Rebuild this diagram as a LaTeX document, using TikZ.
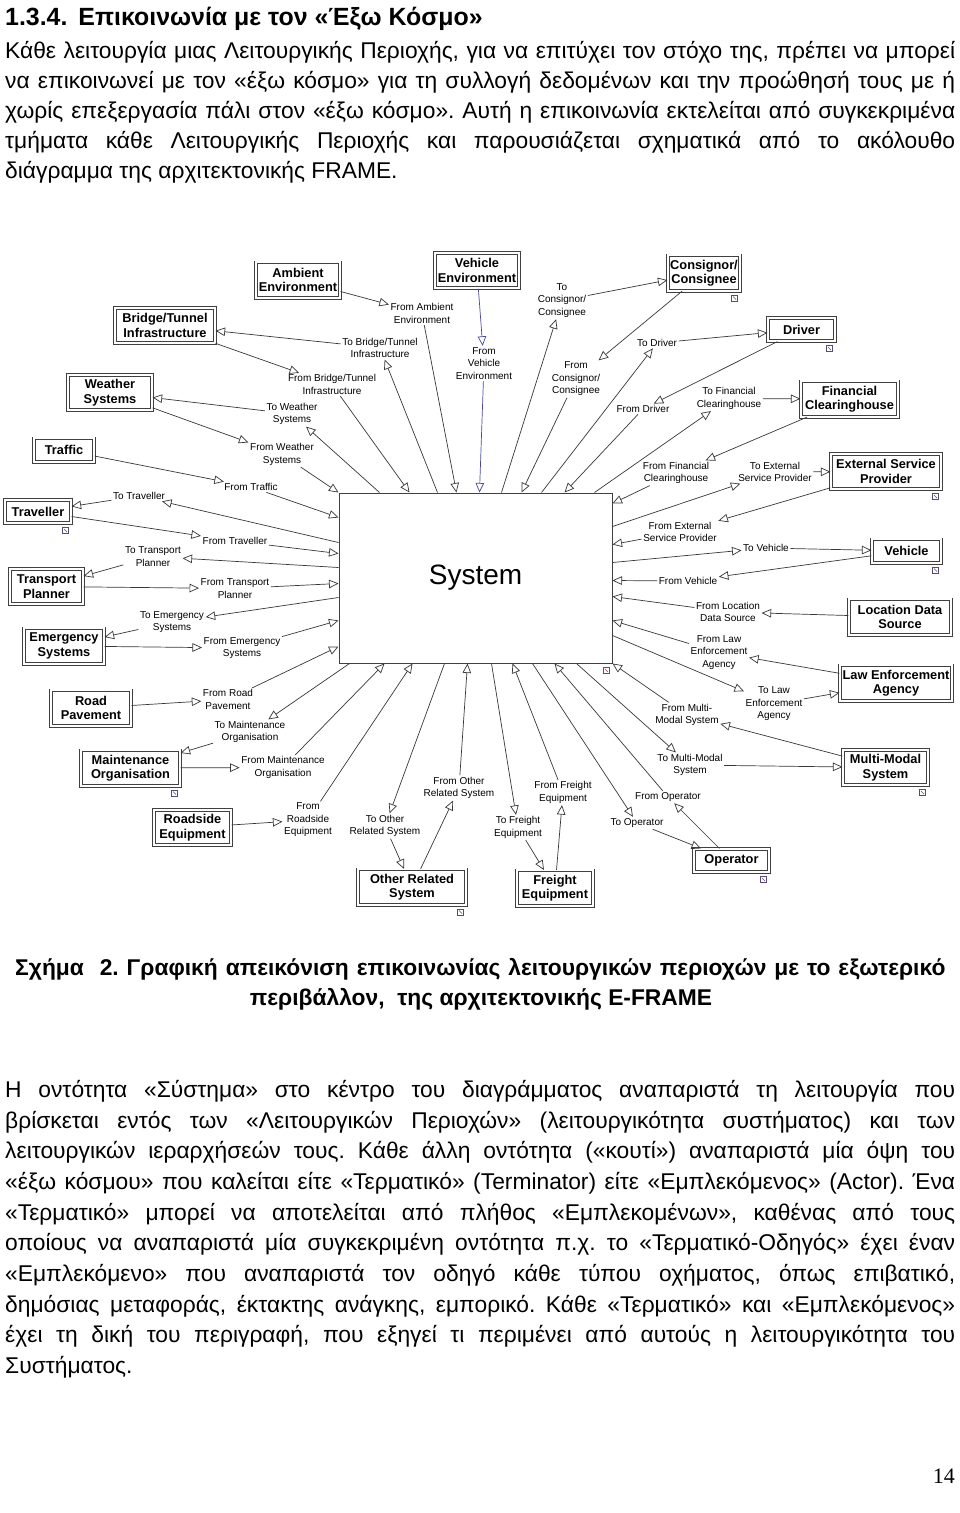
\documentclass[tikz,border=0pt]{standalone}
\usepackage{fontspec}
\setmainfont{Liberation Sans}
\newfontfamily\pagenofont{Liberation Serif}
\usetikzlibrary{arrows.meta}
\frenchspacing
\definecolor{flowGrey}{HTML}{383838}
\definecolor{flowBlue}{HTML}{4848A0}
\definecolor{boxGrey}{HTML}{404040}
\definecolor{iconPurple}{HTML}{5A4A7A}
\definecolor{iconRed}{HTML}{B03040}
\newcommand{\fullline}[2][950pt]{\makebox[#1][s]{#2}}
\newcommand{\boxmark}[2][iconPurple]{%
  \draw[#1, line width=0.6pt, fill=white] ([xshift=-9pt,yshift=-4pt]#2.south east) rectangle ++(6pt,-6pt);
  \draw[#1, line width=0.5pt] ([xshift=-7.5pt,yshift=-5.5pt]#2.south east) -- ++(3pt,-3pt);}
\tikzset{
  bodyline/.style={anchor=base west, inner sep=0pt, font=\fontsize{22.8}{30.5}\selectfont},
  headline/.style={anchor=base west, inner sep=0pt, font=\fontsize{24.9}{30.5}\selectfont\bfseries},
  capline/.style={anchor=base west, inner sep=0pt, font=\fontsize{22.8}{30.5}\selectfont\bfseries},
  term/.style={rectangle, draw=boxGrey, line width=0.8pt, double=white, double distance=2pt,
    fill=white, align=center, inner sep=1pt, minimum height=35.4pt,
    font=\fontsize{12.8}{14.5}\selectfont\bfseries},
  termone/.style={term, minimum height=23.4pt},
  flowlbl/.style={align=center, inner sep=1.5pt, font=\fontsize{10}{12.5}\selectfont},
  sysbox/.style={rectangle, draw=boxGrey, line width=1pt, fill=white,
    minimum width=273pt, minimum height=170pt, font=\fontsize{28}{30}\selectfont},
  flow/.style={draw=flowGrey, line width=0.7pt, -{Triangle[open, length=9.5pt, width=8.5pt]}},
  flowblue/.style={flow, draw=flowBlue},
}
\begin{document}
\begin{tikzpicture}[x=1pt, y=-1pt]
\useasboundingbox[fill=white] (0,0) rectangle (960,1513);

% ---------- heading and first paragraph ----------
\node[headline] (head) at (5,25) {1.3.4.\hspace{11pt}Επικοινωνία με τον «Έξω Κόσμο»};
\node[bodyline] (p1-1) at (5,58) {\fullline{Κάθε λειτουργία μιας Λειτουργικής Περιοχής, για να επιτύχει τον στόχο της, πρέπει να μπορεί}};
\node[bodyline] (p1-2) at (5,88) {\fullline{να επικοινωνεί με τον «έξω κόσμο» για τη συλλογή δεδομένων και την προώθησή τους με ή}};
\node[bodyline] (p1-3) at (5,118) {\fullline{χωρίς επεξεργασία πάλι στον «έξω κόσμο». Αυτή η επικοινωνία εκτελείται από συγκεκριμένα}};
\node[bodyline] (p1-4) at (5,148) {\fullline{τμήματα κάθε Λειτουργικής Περιοχής και παρουσιάζεται σχηματικά από το ακόλουθο}};
\node[bodyline] (p1-5) at (5,178) {διάγραμμα της αρχιτεκτονικής FRAME.};

% ---------- System ----------
\node[sysbox] (sys) at (475.5,578) {System};

% ---------- terminators ----------
\node[term, minimum width=84.4pt] (amb) at (298,280) {Ambient\\Environment};
\node[term, minimum width=84.4pt] (ven) at (477,270.5) {Vehicle\\Environment};
\node[term, minimum width=72.4pt] (csg) at (704,273) {Consignor/\\Consignee};
\node[term, minimum width=100.4pt] (bri) at (165,325.5) {Bridge/Tunnel\\Infrastructure};
\node[termone, minimum width=67.4pt] (drv) at (801.5,329.5) {Driver};
\node[term, minimum width=84.4pt] (wea) at (110,392.5) {Weather\\Systems};
\node[term, minimum width=97.4pt] (fin) at (849.5,399) {Financial\\Clearinghouse};
\node[termone, minimum width=60.4pt] (trf) at (64,450) {Traffic};
\node[term, minimum width=110.4pt] (esp) at (886,471.5) {External Service\\Provider};
\node[termone, minimum width=66.4pt] (trv) at (38,511.5) {Traveller};
\node[termone, minimum width=69.4pt] (veh) at (906.5,551) {Vehicle};
\node[term, minimum width=73.4pt] (tpl) at (46.5,586.5) {Transport\\Planner};
\node[term, minimum width=102.4pt] (loc) at (900,617) {Location Data\\Source};
\node[term, minimum width=80.4pt] (eme) at (64,646) {Emergency\\Systems};
\node[term, minimum width=112.4pt] (law) at (896,683) {Law Enforcement\\Agency};
\node[term, minimum width=80.4pt] (pav) at (91,708) {Road\\Pavement};
\node[term, minimum width=99.4pt] (mai) at (130.5,768) {Maintenance\\Organisation};
\node[term, minimum width=85.4pt] (mms) at (885.5,767.5) {Multi-Modal\\System};
\node[term, minimum width=77.4pt] (rse) at (192.5,827.5) {Roadside\\Equipment};
\node[termone, minimum width=75.4pt] (ope) at (731.5,860.5) {Operator};
\node[term, minimum width=108.4pt] (oth) at (412,887) {Other Related\\System};
\node[term, minimum width=76.4pt] (fre) at (555,888) {Freight\\Equipment};

\boxmark{csg} \boxmark{drv} \boxmark{trv} \boxmark{esp} \boxmark{veh}
\boxmark{mai} \boxmark{mms} \boxmark{ope} \boxmark{oth}
\boxmark[iconRed]{sys}

% ---------- flow labels ----------
\node[flowlbl] (f-amb) at (422,313.5) {From Ambient\\Environment};
\node[flowlbl] (f-ven) at (484,363.5) {From\\Vehicle\\Environment};
\node[flowlbl] (t-bri) at (380,348) {To Bridge/Tunnel\\Infrastructure};
\node[flowlbl] (f-bri) at (332,384.5) {From Bridge/Tunnel\\Infrastructure};
\node[flowlbl] (t-wea) at (292,414) {To Weather\\Systems};
\node[flowlbl] (f-wea) at (282,454.5) {From Weather\\Systems};
\node[flowlbl] (f-trf) at (251,487) {From Traffic};
\node[flowlbl] (t-trv) at (139,496) {To Traveller};
\node[flowlbl] (f-trv) at (235,541) {From Traveller};
\node[flowlbl] (t-tpl) at (153,556.5) {To Transport\\Planner};
\node[flowlbl] (f-tpl) at (235,588.5) {From Transport\\Planner};
\node[flowlbl] (t-eme) at (172,622) {To Emergency\\Systems};
\node[flowlbl] (f-eme) at (242,648) {From Emergency\\Systems};
\node[flowlbl] (f-pav) at (228,699.5) {From Road\\Pavement};
\node[flowlbl] (t-mai) at (250,732) {To Maintenance\\Organisation};
\node[flowlbl] (f-mai) at (283,767.5) {From Maintenance\\Organisation};
\node[flowlbl] (f-rse) at (308,820) {From\\Roadside\\Equipment};
\node[flowlbl] (t-oth) at (385,826) {To Other\\Related System};
\node[flowlbl] (f-oth) at (459,788) {From Other\\Related System};
\node[flowlbl] (t-fre) at (518,827.5) {To Freight\\Equipment};
\node[flowlbl] (f-fre) at (563,792.5) {From Freight\\Equipment};
\node[flowlbl] (t-ope) at (637,823) {To Operator};
\node[flowlbl] (f-ope) at (668,797) {From Operator};
\node[flowlbl] (f-mms) at (687,715) {From Multi-\\Modal System};
\node[flowlbl] (t-mms) at (690,765) {To Multi-Modal\\System};
\node[flowlbl] (t-law) at (774,704) {To Law\\Enforcement\\Agency};
\node[flowlbl] (f-law) at (719,652.5) {From Law\\Enforcement\\Agency};
\node[flowlbl] (f-loc) at (728,612) {From Location\\Data Source};
\node[flowlbl] (f-veh) at (688,581) {From Vehicle};
\node[flowlbl] (t-veh) at (766,548) {To Vehicle};
\node[flowlbl] (f-esp) at (680,532) {From External\\Service Provider};
\node[flowlbl] (t-esp) at (775,472) {To External\\Service Provider};
\node[flowlbl] (f-fin) at (676,473) {From Financial\\Clearinghouse};
\node[flowlbl] (t-fin) at (729,398.5) {To Financial\\Clearinghouse};
\node[flowlbl] (f-drv) at (643,409) {From Driver};
\node[flowlbl] (t-drv) at (657,343) {To Driver};
\node[flowlbl] (f-csg) at (576,379) {From\\Consignor/\\Consignee};
\node[flowlbl] (t-csg) at (562,300.5) {To\\Consignor/\\Consignee};

% ---------- terminator <-> label ----------
\draw[flow] (amb) -- (f-amb);
\draw[flowblue] (ven) -- (f-ven);
\draw[flow] (csg) -- (f-csg);
\draw[flow] (t-csg) -- (csg);
\draw[flow] (bri) -- (f-bri);
\draw[flow] (t-bri) -- (bri);
\draw[flow] (drv) -- (f-drv);
\draw[flow] (t-drv) -- (drv);
\draw[flow] (wea) -- (f-wea);
\draw[flow] (t-wea) -- (wea);
\draw[flow] (fin) -- (f-fin);
\draw[flow] (t-fin) -- (fin);
\draw[flow] (trf) -- (f-trf);
\draw[flow] (esp) -- (f-esp);
\draw[flow] (t-esp) -- (esp);
\draw[flow] (trv) -- (f-trv);
\draw[flow] (t-trv) -- (trv);
\draw[flow] (veh) -- (f-veh);
\draw[flow] (t-veh) -- (veh);
\draw[flow] (tpl) -- (f-tpl);
\draw[flow] (t-tpl) -- (tpl);
\draw[flow] (loc) -- (f-loc);
\draw[flow] (eme) -- (f-eme);
\draw[flow] (t-eme) -- (eme);
\draw[flow] (law) -- (f-law);
\draw[flow] (t-law) -- (law);
\draw[flow] (pav) -- (f-pav);
\draw[flow] (mai) -- (f-mai);
\draw[flow] (t-mai) -- (mai);
\draw[flow] (mms) -- (f-mms);
\draw[flow] (t-mms) -- (mms);
\draw[flow] (rse) -- (f-rse);
\draw[flow] (ope) -- (f-ope);
\draw[flow] (t-ope) -- (ope);
\draw[flow] (oth) -- (f-oth);
\draw[flow] (t-oth) -- (oth);
\draw[flow] (fre) -- (f-fre);
\draw[flow] (t-fre) -- (fre);

% ---------- label <-> System, top side ----------
\draw[flow] (f-wea) -- (sys.north west);
\draw[flow] ([xshift=41pt]sys.north west) -- (t-wea);
\draw[flow] (f-bri) -- ([xshift=71pt]sys.north west);
\draw[flow] ([xshift=99pt]sys.north west) -- (t-bri);
\draw[flow] (f-amb) -- ([xshift=118pt]sys.north west);
\draw[flowblue] (f-ven) -- ([xshift=141pt]sys.north west);
\draw[flow] ([xshift=163pt]sys.north west) -- (t-csg);
\draw[flow] (f-csg) -- ([xshift=183pt]sys.north west);
\draw[flow] ([xshift=203pt]sys.north west) -- (t-drv);
\draw[flow] (f-drv) -- ([xshift=226pt]sys.north west);
\draw[flow] ([xshift=256pt]sys.north west) -- (t-fin);
% right side
\draw[flow] (f-fin) -- ([yshift=-11pt]sys.north east);
\draw[flow] ([yshift=-34pt]sys.north east) -- (t-esp);
\draw[flow] (f-esp) -- ([yshift=-52pt]sys.north east);
\draw[flow] ([yshift=-70pt]sys.north east) -- (t-veh);
\draw[flow] (f-veh) -- ([yshift=-88pt]sys.north east);
\draw[flow] (f-loc) -- ([yshift=-104pt]sys.north east);
\draw[flow] (f-law) -- ([yshift=-128pt]sys.north east);
\draw[flow] ([yshift=-143pt]sys.north east) -- (t-law);
% bottom side
\draw[flow] ([xshift=11pt]sys.south west) -- (t-mai);
\draw[flow] (f-mai) -- ([xshift=46pt]sys.south west);
\draw[flow] (f-rse) -- ([xshift=74pt]sys.south west);
\draw[flow] ([xshift=106pt]sys.south west) -- (t-oth);
\draw[flow] (f-oth) -- ([xshift=129pt]sys.south west);
\draw[flow] ([xshift=153pt]sys.south west) -- (t-fre);
\draw[flow] (f-fre) -- ([xshift=174pt]sys.south west);
\draw[flow] ([xshift=194pt]sys.south west) -- (t-ope);
\draw[flow] (f-ope) -- ([xshift=216pt]sys.south west);
\draw[flow] ([xshift=238pt]sys.south west) -- (t-mms);
\draw[flow] (f-mms) -- (sys.south east);
% left side
\draw[flow] (f-trf) -- ([yshift=-25pt]sys.north west);
\draw[flow] ([yshift=-50pt]sys.north west) -- (t-trv);
\draw[flow] (f-trv) -- ([yshift=-61pt]sys.north west);
\draw[flow] ([yshift=-75pt]sys.north west) -- (t-tpl);
\draw[flow] (f-tpl) -- ([yshift=-91pt]sys.north west);
\draw[flow] ([yshift=-105pt]sys.north west) -- (t-eme);
\draw[flow] (f-eme) -- ([yshift=-128pt]sys.north west);
\draw[flow] (f-pav) -- ([yshift=-154pt]sys.north west);

% ---------- caption ----------
\node[capline] (cap-1) at (15,975) {\fullline[930pt]{Σχήμα\ \ 2. Γραφική απεικόνιση επικοινωνίας λειτουργικών περιοχών με το εξωτερικό}};
\node[capline, anchor=base] (cap-2) at (481,1005) {περιβάλλον,\ \ της αρχιτεκτονικής E-FRAME};

% ---------- second paragraph ----------
\node[bodyline] (p2-1) at (5,1097) {\fullline{Η οντότητα «Σύστημα» στο κέντρο του διαγράμματος αναπαριστά τη λειτουργία που}};
\node[bodyline] (p2-2) at (5,1128) {\fullline{βρίσκεται εντός των «Λειτουργικών Περιοχών» (λειτουργικότητα συστήματος) και των}};
\node[bodyline] (p2-3) at (5,1158) {\fullline{λειτουργικών ιεραρχήσεών τους. Κάθε άλλη οντότητα («κουτί») αναπαριστά μία όψη του}};
\node[bodyline] (p2-4) at (5,1189) {\fullline{«έξω κόσμου» που καλείται είτε «Τερματικό» (Terminator) είτε «Εμπλεκόμενος» (Actor). Ένα}};
\node[bodyline] (p2-5) at (5,1220) {\fullline{«Τερματικό» μπορεί να αποτελείται από πλήθος «Εμπλεκομένων», καθένας από τους}};
\node[bodyline] (p2-6) at (5,1250) {\fullline{οποίους να αναπαριστά μία συγκεκριμένη οντότητα π.χ. το «Τερματικό-Οδηγός» έχει έναν}};
\node[bodyline] (p2-7) at (5,1281) {\fullline{«Εμπλεκόμενο» που αναπαριστά τον οδηγό κάθε τύπου οχήματος, όπως επιβατικό,}};
\node[bodyline] (p2-8) at (5,1312) {\fullline{δημόσιας μεταφοράς, έκτακτης ανάγκης, εμπορικό. Κάθε «Τερματικό» και «Εμπλεκόμενος»}};
\node[bodyline] (p2-9) at (5,1342) {\fullline{έχει τη δική του περιγραφή, που εξηγεί τι περιμένει από αυτούς η λειτουργικότητα του}};
\node[bodyline] (p2-10) at (5,1373) {Συστήματος.};

% ---------- page number ----------
\node[anchor=base east, inner sep=0pt, font=\pagenofont\fontsize{22}{26}\selectfont] (pageno) at (955,1483) {14};

\end{tikzpicture}
\end{document}
